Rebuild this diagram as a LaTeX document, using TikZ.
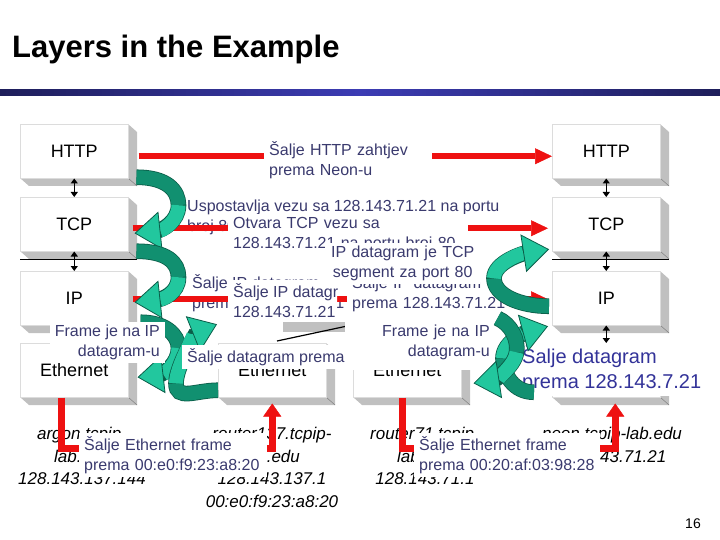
\documentclass[tikz,border=0pt]{standalone}
\usepackage{fontspec}
\setmainfont{Liberation Sans}
\usetikzlibrary{arrows.meta}
\definecolor{notetext}{HTML}{3A3A6E}
\definecolor{calloutblue}{HTML}{333399}
\definecolor{sendred}{HTML}{EE1111}
\definecolor{ribbonlight}{HTML}{22C79E}
\definecolor{ribbondark}{HTML}{119070}
\definecolor{ribbonline}{HTML}{0B5E49}
\definecolor{slabgray}{HTML}{C0C0C0}
\definecolor{facegray}{HTML}{DCDCDC}
\definecolor{rulenavy}{HTML}{1E1E5A}
\definecolor{ruleblue}{HTML}{3C3CB4}
\tikzset{
  every picture/.style={font=\fontsize{16}{20}\selectfont},
  layer/.style={rectangle,fill=white,draw=facegray,line width=0.5pt,
    minimum width=108pt,minimum height=54pt,anchor=north west,
    font=\fontsize{18}{22}\selectfont},
  slab/.style={fill=slabgray},
  floor/.style={draw=black,line width=0.8pt},
  stackarrow/.style={draw=black,line width=1.4pt,
    {Triangle[length=5pt,width=7pt]}-{Triangle[length=5pt,width=7pt]}},
  send/.style={draw=sendred,line width=6pt,
    -{Triangle[length=17pt,width=16pt,line width=0.5pt]}},
  sendlink/.style={send,line width=7pt,
    -{Triangle[length=13pt,width=18pt,line width=0.5pt]}},
  note/.style={fill=white,text=notetext,align=left,inner xsep=5pt,inner ysep=3pt},
  callout/.style={note,text=calloutblue,font=\fontsize{20}{25}\selectfont},
  host/.style={align=center,inner sep=0pt,anchor=north,
    font=\fontsize{17}{22.5}\selectfont\itshape},
  ribbonedge/.style={draw=ribbonline,line width=15.6pt,shorten >=22pt},
  ribbonback/.style={draw=ribbondark,line width=14pt},
  ribbon/.style={draw=ribbonlight,line width=14pt,
    -{Triangle[length=26pt,width=38pt,line width=0.8pt,color=ribbonline,fill=ribbonlight]}},
}
\newcommand{\ribbonarrow}[7]{%
  \draw[ribbonedge] #1 .. controls #2 and #3 .. #4 .. controls #5 and #6 .. #7;
  \draw[ribbonback] #1 .. controls #2 and #3 .. #4;
  \draw[ribbon] #4 .. controls #5 and #6 .. #7;
}

\begin{document}
\begin{tikzpicture}[x=1pt,y=-1pt]
  \path[use as bounding box] (0,0) rectangle (720,540);
  \node[anchor=base west,inner sep=0pt,font=\fontsize{31}{36}\selectfont\bfseries]
    (title) at (12,58) {Layers in the Example};
  \shade[left color=rulenavy,right color=rulenavy,middle color=ruleblue]
    (0,90) rectangle (720,96);

  % the four stacks: argon, two routers, neon
  \foreach \n/\x/\y/\lbl in {lhttp/20/124/HTTP,ltcp/20/197/TCP,lip/20/271/IP,leth/20/343/Ethernet,
      rhttp/552/124/HTTP,rtcp/552/197/TCP,rip/552/271/IP,reth/552/343/Ethernet,
      aeth/218/343/Ethernet,beth/353/343/Ethernet} {
    \fill[slab] (\x+108,\y) -- ++(9,8) -- ++(0,54) -- ++(-108,0) -- ++(-9,-8) -- ++(108,0) -- cycle;
    \draw[black!55,line width=0.4pt] (\x+108,\y+54) -- ++(9,8);
    \node[layer] (\n) at (\x,\y) {\lbl};
  }
  \draw[floor] (ltcp.south west) ++(0,8) -- ++(117,0);
  \draw[floor] (rtcp.south west) ++(0,8) -- ++(117,0);
  \draw[stackarrow] (lhttp.south) -- (ltcp.north);
  \draw[stackarrow] (ltcp.south) -- (lip.north);
  \draw[stackarrow] (lip.south) -- (leth.north);
  \draw[stackarrow] (rhttp.south) -- (rtcp.north);
  \draw[stackarrow] (rtcp.south) -- (rip.north);
  \draw[stackarrow] (rip.south) -- (reth.north);

  \node[host] (argon) at (82,427) {argon.tcpip-\\lab.edu\\128.143.137.144};
  \node[host] (routera) at (272,427) {router137.tcpip-\\lab.edu\\128.143.137.1\\00:e0:f9:23:a8:20};
  \node[host] (routerb) at (425,427) {router71.tcpip-\\lab.edu\\128.143.71.1};
  \node[host] (neon) at (612,427) {neon.tcpip-lab.edu\\128.143.71.21};

  \node[note,anchor=north west] (tcpnote) at (182,197)
    {Uspostavlja vezu sa 128.143.71.21 na portu\\broj 80};
  \node[note,anchor=north west] (ipnote) at (187,271)
    {Šalje IP datagram\\prema 128.143.71.21};

  \draw[send] ([xshift=10pt,yshift=-5pt]lhttp.east) -- ([yshift=-5pt]rhttp.west);
  \draw[send] ([xshift=4pt,yshift=-4pt]ltcp.east) -- ([xshift=-4pt,yshift=-4pt]rtcp.west);
  \draw[send] ([xshift=4pt,yshift=-1pt]lip.east) -- ([xshift=-4pt,yshift=-1pt]rip.west);
  \draw[sendlink] ([xshift=-13pt]leth.south) |- ([yshift=-51pt]aeth.south)
    -- ([yshift=-6pt]aeth.south);
  \draw[sendlink] ([xshift=-5pt]beth.south) |- ([xshift=9pt,yshift=-51pt]reth.south)
    -- ([xshift=9pt,yshift=-6pt]reth.south);

  \node[note,anchor=north west,text width=158pt] (httpnote) at (264,138)
    {Šalje HTTP zahtjev\\prema Neon-u};
  \node[note,anchor=north west,text width=230pt] (tcpopen) at (228,214)
    {Otvara TCP vezu sa\\128.143.71.21 na portu broj 80};
  \begin{scope}
    \clip (228,250) rectangle (337,330);
    \node[note,anchor=north west] (ipsend) at (228,280)
      {Šalje IP datagram prema\\128.143.71.21};
  \end{scope}
  \node[note,anchor=north west,text width=160pt] (ipout) at (347,271)
    {Šalje IP datagram\\prema 128.143.71.21};
  \node[note,anchor=north west,text width=145pt,align=center] (segnote) at (325,243)
    {IP datagram je TCP\\segment za port 80};
  \fill[slabgray] (283,322) rectangle (353,332);
  \draw[black,line width=1.2pt] (277,341) -- (352,325);

  \ribbonarrow{([xshift=8pt,yshift=-26pt]lhttp.east)}{+(30,0)}{+(0,-15)}
    {([xshift=50pt,yshift=-54pt]lhttp.east)}{+(0,16)}{+(28,-3)}{([xshift=6pt,yshift=-9pt]ltcp.east)}
  \ribbonarrow{([xshift=8pt,yshift=-27pt]ltcp.east)}{+(30,0)}{+(0,-15)}
    {([xshift=50pt,yshift=-53pt]ltcp.east)}{+(0,16)}{+(28,-3)}{([xshift=6pt,yshift=-4pt]lip.east)}
  \ribbonarrow{([xshift=12pt,yshift=-24pt]lip.east)}{+(24,0)}{+(0,-14)}
    {([xshift=50pt,yshift=-50pt]lip.east)}{+(0,15)}{+(26,-3)}{([xshift=9pt,yshift=-7pt]leth.east)}
  \ribbonarrow{([yshift=-20pt]aeth.west)}{+(-22,0)}{+(0,18)}
    {([xshift=-42pt,yshift=-13pt]aeth.west)}{+(0,-17)}{+(-20,8)}{([xshift=-1pt,yshift=46pt]aeth.west)}

  \node[note,anchor=north east,align=right] (frameleft) at (165,322)
    {Frame je na IP\\datagram-u};
  \node[note,anchor=base west,text height=14pt,text depth=4pt] (dgnote) at (182,362)
    {Šalje datagram prema 128.143.7.21};
  \node[note,anchor=north east,align=right,text width=140pt] (framemid) at (495,322)
    {Frame je na IP\\datagram-u\rule[-10pt]{0pt}{10pt}};
  \node[callout,anchor=north west] (dgcallout) at (517,343)
    {Šalje datagram\\prema 128.143.7.21};

  \ribbonarrow{([xshift=-3pt,yshift=-8pt]rip.west)}{+(-29,0)}{+(0,17)}
    {([xshift=-58pt,yshift=20pt]rip.west)}{+(0,-16)}{+(-26,4)}{([xshift=-3pt,yshift=-25pt]rtcp.west)}
  \ribbonarrow{([xshift=-18pt,yshift=-22pt]reth.west)}{+(-20,0)}{+(0,17)}
    {([xshift=-49pt,yshift=12pt]reth.west)}{+(0,-17)}{+(-22,6)}{([xshift=-4pt,yshift=44pt]reth.west)}
  \ribbonarrow{([xshift=36pt,yshift=52pt]beth.east)}{+(14,6)}{+(2,-12)}
    {([xshift=55pt,yshift=18pt]beth.east)}{+(-2,15)}{+(20,-3)}{([xshift=12pt,yshift=-13pt]beth.east)}

  \node[note,anchor=north west,text width=178pt] (framea) at (79,433)
    {Šalje Ethernet frame\\prema 00:e0:f9:23:a8:20};
  \node[note,anchor=north west,text width=176pt] (frameb) at (414,433)
    {Šalje Ethernet frame\\prema 00:20:af:03:98:28};
  \node[anchor=base east,inner sep=0pt,font=\fontsize{14}{16}\selectfont] (pageno) at (701,528) {16};
\end{tikzpicture}
\end{document}
